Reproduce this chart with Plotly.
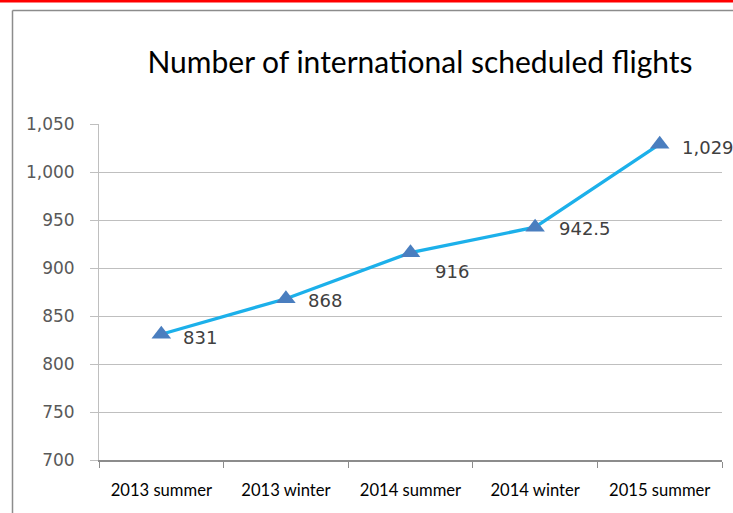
import plotly.graph_objects as go

categories = ["2013 summer", "2013 winter", "2014 summer", "2014 winter", "2015 summer"]
flights = [831, 868, 916, 942.5, 1029]
value_labels = ["831", "868", "916", "942.5", "1,029"]
y_ticks = [700, 750, 800, 850, 900, 950, 1000, 1050]
y_tick_labels = ["700", "750", "800", "850", "900", "950", "1,000", "1,050"]

# label offsets (px) relative to each point
label_dx = [20, 20, 22, 22, 20]
label_dy = [-3, -2, -19, -1, -3]

W, H = 733, 513
L, R, T, B = 99, 11, 124, 53
pw, ph = W - L - R, H - T - B

def px_x(p):
    return (p - L) / pw

def px_y(p):
    return (H - B - p) / ph

fig = go.Figure()
fig.add_trace(go.Scatter(
    x=categories, y=flights, mode="lines+markers",
    line=dict(color="#1cb0ea", width=3.3),
    marker=dict(symbol="triangle-up", size=17, color="#4a7ebf"),
    hoverinfo="x+y", showlegend=False,
))

for c, v, t, dx, dy in zip(categories, flights, value_labels, label_dx, label_dy):
    fig.add_annotation(x=c, y=v, text=t, showarrow=False, xanchor="left", yanchor="middle",
                       xshift=dx, yshift=dy,
                       font=dict(family="DejaVu Sans", size=18, color="#404040"))

# frame and red top bar
fig.add_shape(type="rect", xref="paper", yref="paper",
              x0=px_x(-5), x1=px_x(W + 5), y0=px_y(2.5), y1=px_y(-5),
              fillcolor="#ff0000", line=dict(width=0), layer="above")
fig.add_shape(type="line", xref="paper", yref="paper",
              x0=px_x(12.5), x1=px_x(W + 5), y0=px_y(10.5), y1=px_y(10.5),
              line=dict(color="#8c8c8c", width=1.5))
fig.add_shape(type="line", xref="paper", yref="paper",
              x0=px_x(12.5), x1=px_x(12.5), y0=px_y(10.5), y1=px_y(H + 5),
              line=dict(color="#8c8c8c", width=1.5))

fig.update_layout(
    template="none",
    width=W, height=H,
    margin=dict(l=L, r=R, t=T, b=B),
    paper_bgcolor="white", plot_bgcolor="white",
    title=dict(text="Number of international scheduled flights",
               xref="container", yref="container", x=420 / W, y=1 - 62 / H,
               xanchor="center", yanchor="middle",
               font=dict(family="Lato", size=30, color="#000000")),
    xaxis=dict(type="category", range=[-0.5, len(categories) - 0.5],
               tickson="boundaries", ticks="outside", ticklen=6,
               tickcolor="#8c8c8c", showline=True, linecolor="#8c8c8c", linewidth=1.5,
               showgrid=False, zeroline=False, mirror=False, ticklabelstandoff=14,
               tickfont=dict(family="Lato", size=16.6, color="#000000")),
    yaxis=dict(range=[700, 1050], tickvals=y_ticks, ticktext=y_tick_labels,
               ticks="outside", ticklen=8, tickcolor="#bfbfbf",
               showline=True, linecolor="#bfbfbf", linewidth=1, mirror=False,
               showgrid=True, gridcolor="#bfbfbf", gridwidth=1,
               zeroline=False, ticklabelstandoff=12,
               tickfont=dict(family="DejaVu Sans", size=17, color="#595959")),
)

fig.write_html("out.html", config={"displayModeBar": False},
               post_script="document.body.style.margin='0';document.body.style.overflow='hidden';")
